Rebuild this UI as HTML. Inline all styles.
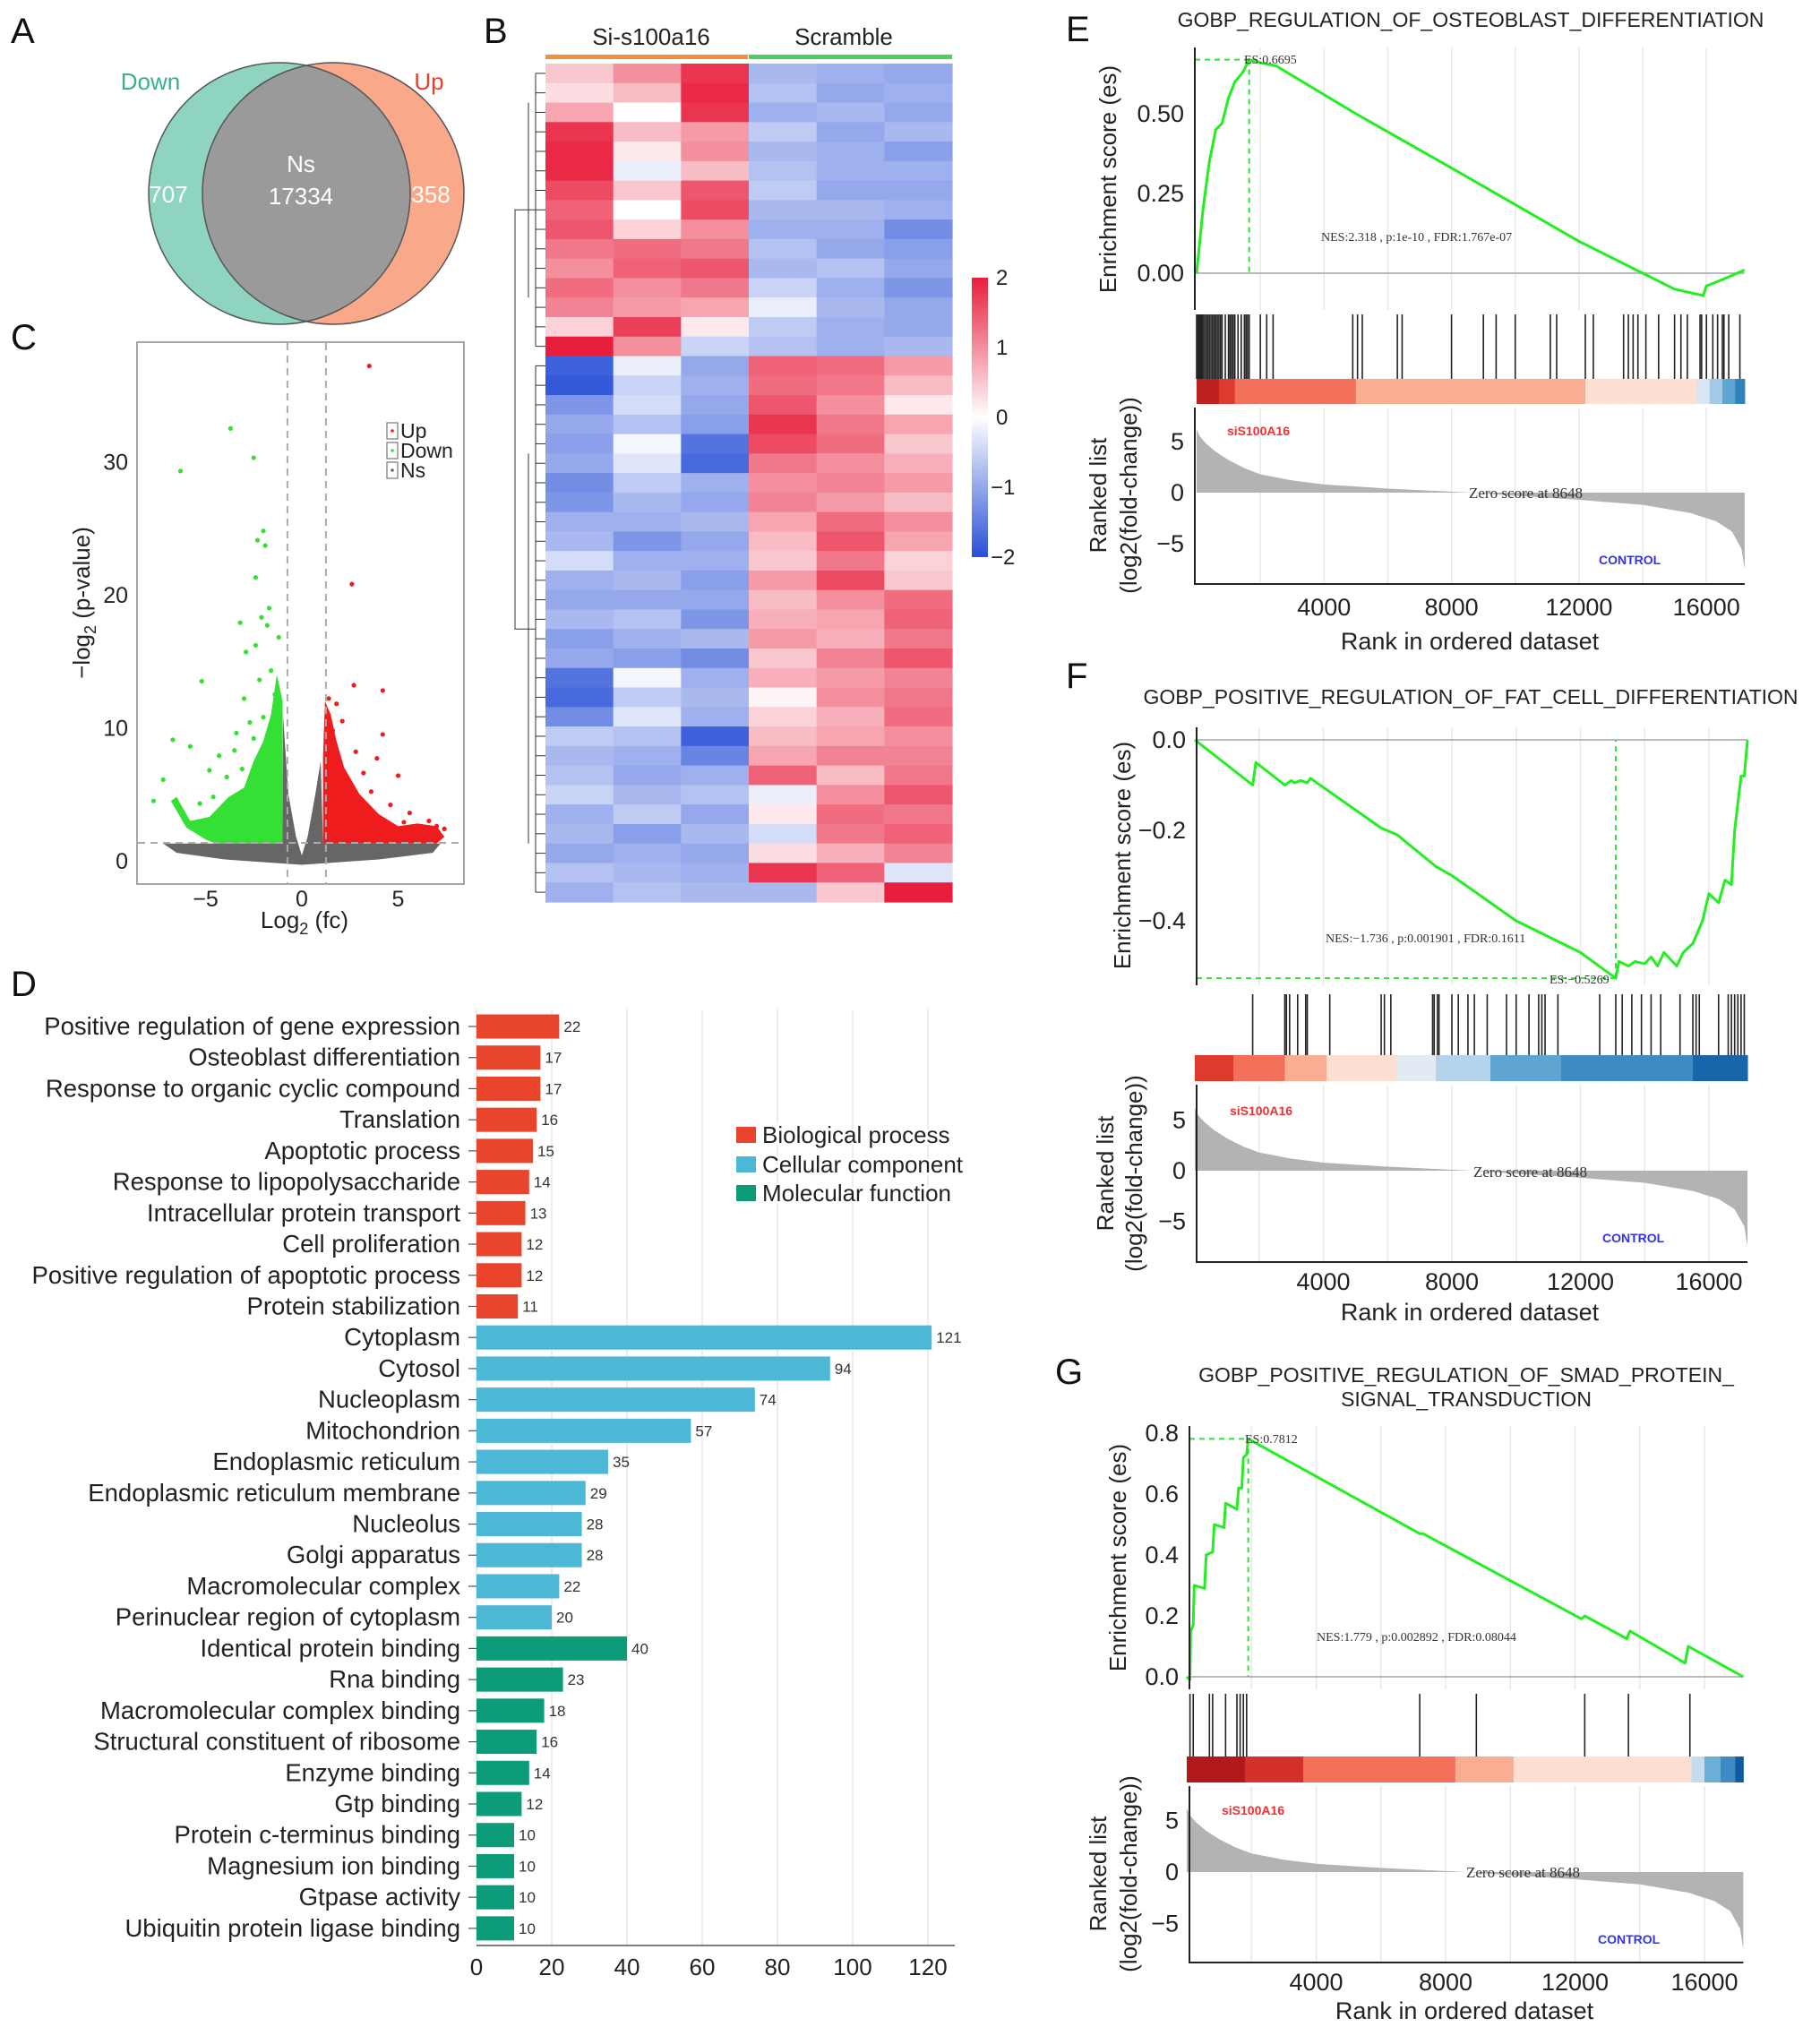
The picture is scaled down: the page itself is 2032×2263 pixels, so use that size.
<!DOCTYPE html>
<html><head><meta charset="utf-8"><style>
html,body{margin:0;padding:0;background:#fff}
svg{display:block;font-family:"Liberation Sans",Arial,sans-serif}
.lt{font-size:40px;fill:#111}
.ser{font-family:"Liberation Serif",serif}
</style></head><body>
<svg id="fig" xmlns="http://www.w3.org/2000/svg" width="2032" height="2263" viewBox="0 0 2032 2263">
<rect x="0" y="0" width="2032" height="2263" fill="#fff"/>
<text class="lt" x="12" y="48">A</text>
<text class="lt" x="540" y="48">B</text>
<text class="lt" x="12" y="390">C</text>
<text class="lt" x="12" y="1112">D</text>
<text class="lt" x="1190" y="46">E</text>
<text class="lt" x="1190" y="768">F</text>
<text class="lt" x="1178" y="1545">G</text>

<g>
<defs><clipPath id="cl"><circle cx="312" cy="216" r="146"/></clipPath></defs>
<circle cx="312" cy="216" r="146" fill="#8fd3c1"/>
<circle cx="372" cy="216" r="146" fill="#f9a98a"/>
<circle cx="372" cy="216" r="146" fill="#9a9a9a" clip-path="url(#cl)"/>
<circle cx="312" cy="216" r="146" fill="none" stroke="#555" stroke-width="1.5"/>
<circle cx="372" cy="216" r="146" fill="none" stroke="#555" stroke-width="1.5"/>
<text x="168" y="100" font-size="26" fill="#3aae8f" text-anchor="middle">Down</text>
<text x="479" y="100" font-size="26" fill="#e8402a" text-anchor="middle">Up</text>
<text x="188" y="226" font-size="26" fill="#fff" text-anchor="middle">707</text>
<text x="336" y="192" font-size="26" fill="#fff" text-anchor="middle">Ns</text>
<text x="336" y="228" font-size="26" fill="#fff" text-anchor="middle">17334</text>
<text x="481" y="226" font-size="26" fill="#fff" text-anchor="middle">358</text>
</g>

<g id="heat">
<rect x="609" y="61" width="226" height="5" fill="#f0913a"/>
<rect x="836" y="61" width="227" height="5" fill="#4fcf5f"/>
<text x="727" y="50" font-size="26" text-anchor="middle" fill="#222">Si-s100a16</text>
<text x="942" y="50" font-size="26" text-anchor="middle" fill="#222">Scramble</text>
</g>
<g>
<defs><linearGradient id="hg" x1="0" y1="0" x2="0" y2="1">
<stop offset="0" stop-color="#e81e3c"/><stop offset="0.5" stop-color="#ffffff"/><stop offset="1" stop-color="#2850d7"/></linearGradient></defs>
<rect x="1085" y="310" width="18" height="312" fill="url(#hg)"/>
<text x="1112" y="318" font-size="24" fill="#222">2</text>
<text x="1112" y="396" font-size="24" fill="#222">1</text>
<text x="1112" y="474" font-size="24" fill="#222">0</text>
<text x="1106" y="552" font-size="24" fill="#222">−1</text>
<text x="1106" y="630" font-size="24" fill="#222">−2</text>
</g>

<g id="volc">
<rect x="153" y="382" width="365" height="605" fill="#fff" stroke="#888" stroke-width="1.5"/>
<text transform="translate(100,673) rotate(-90)" font-size="26" text-anchor="middle" fill="#222">−log<tspan font-size="18" dy="7">2</tspan><tspan dy="-7"> (p-value)</tspan></text>
<text x="340" y="1036" font-size="26" text-anchor="middle" fill="#222">Log<tspan font-size="18" dy="7">2</tspan><tspan dy="-7"> (fc)</tspan></text>
</g>

<g id="bars"></g>
<g id="barLegend">
<rect x="822" y="1258" width="22" height="18" fill="#e8452c"/>
<rect x="822" y="1291" width="22" height="18" fill="#4cb8d6"/>
<rect x="822" y="1323" width="22" height="18" fill="#0c9c7a"/>
<text x="851" y="1276" font-size="26" fill="#222" stroke="#fff" stroke-width="5" paint-order="stroke">Biological process</text>
<text x="851" y="1309" font-size="26" fill="#222" stroke="#fff" stroke-width="5" paint-order="stroke">Cellular component</text>
<text x="851" y="1341" font-size="26" fill="#222" stroke="#fff" stroke-width="5" paint-order="stroke">Molecular function</text>
</g>

<g id="gE">
<text x="1642" y="30" font-size="23" text-anchor="middle" fill="#222">GOBP_REGULATION_OF_OSTEOBLAST_DIFFERENTIATION</text>
<text transform="translate(1246,200) rotate(-90)" font-size="26" text-anchor="middle" fill="#222">Enrichment score (es)</text>
<text transform="translate(1235,553) rotate(-90)" font-size="26" text-anchor="middle" fill="#222">Ranked list</text>
<text transform="translate(1269,553) rotate(-90)" font-size="26" text-anchor="middle" fill="#222">(log2(fold-change))</text>
<text x="1641" y="725" font-size="27" text-anchor="middle" fill="#222">Rank in ordered dataset</text>
<text class="ser" x="1389" y="71" font-size="14" fill="#333">ES:0.6695</text>
<text class="ser" x="1475" y="269" font-size="14" fill="#333">NES:2.318 , p:1e-10 , FDR:1.767e-07</text>
<text x="1370" y="486" font-size="14" font-weight="bold" fill="#f03030">siS100A16</text>
<text x="1785" y="630" font-size="14" font-weight="bold" fill="#3333ee">CONTROL</text>
<text class="ser" x="1640" y="556" font-size="17" fill="#333">Zero score at 8648</text>
</g>
<g id="gF">
<text x="1642" y="786" font-size="23" text-anchor="middle" fill="#222">GOBP_POSITIVE_REGULATION_OF_FAT_CELL_DIFFERENTIATION</text>
<text transform="translate(1262,955) rotate(-90)" font-size="26" text-anchor="middle" fill="#222">Enrichment score (es)</text>
<text transform="translate(1243,1310) rotate(-90)" font-size="26" text-anchor="middle" fill="#222">Ranked list</text>
<text transform="translate(1275,1310) rotate(-90)" font-size="26" text-anchor="middle" fill="#222">(log2(fold-change))</text>
<text x="1641" y="1474" font-size="27" text-anchor="middle" fill="#222">Rank in ordered dataset</text>
<text class="ser" x="1480" y="1052" font-size="14" fill="#333">NES:−1.736 , p:0.001901 , FDR:0.1611</text>
<text class="ser" x="1730" y="1098" font-size="14" fill="#333">ES:−0.5269</text>
<text x="1373" y="1245" font-size="14" font-weight="bold" fill="#f03030">siS100A16</text>
<text x="1789" y="1387" font-size="14" font-weight="bold" fill="#3333ee">CONTROL</text>
<text class="ser" x="1645" y="1314" font-size="17" fill="#333">Zero score at 8648</text>
</g>
<g id="gG">
<text x="1637" y="1543" font-size="23" text-anchor="middle" fill="#222">GOBP_POSITIVE_REGULATION_OF_SMAD_PROTEIN_</text>
<text x="1637" y="1570" font-size="23" text-anchor="middle" fill="#222">SIGNAL_TRANSDUCTION</text>
<text transform="translate(1257,1739) rotate(-90)" font-size="26" text-anchor="middle" fill="#222">Enrichment score (es)</text>
<text transform="translate(1235,2092) rotate(-90)" font-size="26" text-anchor="middle" fill="#222">Ranked list</text>
<text transform="translate(1269,2092) rotate(-90)" font-size="26" text-anchor="middle" fill="#222">(log2(fold-change))</text>
<text x="1635" y="2254" font-size="27" text-anchor="middle" fill="#222">Rank in ordered dataset</text>
<text class="ser" x="1390" y="1611" font-size="14" fill="#333">ES:0.7812</text>
<text class="ser" x="1470" y="1832" font-size="14" fill="#333">NES:1.779 , p:0.002892 , FDR:0.08044</text>
<text x="1364" y="2026" font-size="14" font-weight="bold" fill="#f03030">siS100A16</text>
<text x="1784" y="2170" font-size="14" font-weight="bold" fill="#3333ee">CONTROL</text>
<text class="ser" x="1637" y="2096" font-size="17" fill="#333">Zero score at 8648</text>
</g>
</svg>
<script>
// ---------- DATA ----------
const heatRows = [
[0.5,1.0,1.8,-0.8,-0.9,-1.0],[0.3,0.6,1.9,-0.7,-1.0,-0.9],[0.8,0.0,1.8,-0.9,-0.8,-1.0],[1.8,0.6,0.9,-0.6,-1.0,-0.8],
[1.9,0.2,1.0,-0.8,-0.9,-1.1],[1.9,-0.2,0.6,-0.7,-0.9,-0.9],[1.6,0.5,1.5,-0.6,-1.0,-1.0],[1.4,0.0,1.6,-0.8,-0.8,-0.9],
[1.5,0.4,1.0,-0.9,-0.9,-1.3],[1.2,1.3,1.2,-0.7,-1.0,-1.1],[1.0,1.4,1.5,-0.8,-0.7,-1.0],[1.3,1.0,1.2,-0.5,-0.9,-1.2],
[1.1,0.9,0.8,-0.2,-0.8,-1.0],[0.4,1.7,0.2,-0.6,-0.9,-1.0],[2.0,1.0,-0.5,-0.7,-0.9,-0.8],
[-1.8,-0.2,-1.0,1.4,1.3,0.9],[-1.9,-0.5,-0.9,1.3,1.2,0.6],[-1.2,-0.4,-1.0,1.5,1.0,0.2],[-1.0,-0.7,-1.1,1.8,1.2,0.8],
[-1.1,-0.1,-1.6,1.6,1.3,0.5],[-1.0,-0.3,-1.7,1.2,1.0,0.7],[-1.3,-0.6,-0.9,1.0,1.1,0.9],[-1.2,-0.8,-1.0,1.1,0.9,0.6],
[-0.9,-0.9,-0.8,0.8,1.3,1.0],[-0.8,-1.2,-1.0,0.6,1.5,0.8],[-0.4,-0.9,-0.9,0.5,1.2,0.4],[-0.9,-0.8,-1.1,0.9,1.6,0.5],
[-1.0,-1.0,-1.0,0.6,1.0,1.3],[-0.8,-0.7,-1.2,0.7,0.8,1.4],[-1.1,-0.9,-0.8,0.9,0.7,1.2],[-1.0,-1.1,-1.3,0.5,1.1,1.5],
[-1.6,-0.1,-0.9,0.7,0.9,1.1],[-1.7,-0.6,-0.8,0.1,1.0,1.2],[-1.3,-0.3,-0.9,0.4,0.7,1.3],[-0.6,-0.7,-1.8,0.6,0.8,1.0],
[-0.8,-0.9,-1.4,0.8,1.1,1.1],[-0.7,-1.0,-0.9,1.4,0.6,1.2],[-0.5,-0.8,-0.7,-0.2,1.0,1.5],[-0.9,-0.6,-1.0,0.2,1.3,1.2],
[-0.8,-1.1,-0.8,-0.4,1.2,1.4],[-1.0,-0.9,-1.0,0.3,0.7,1.1],[-0.7,-0.8,-0.9,1.8,1.4,-0.3],[-0.9,-0.7,-0.8,-0.8,0.5,2.0]];
const heatTopCluster = 15;

const volcXTicks = [-5,0,5];
const volcXTickLabels = ['−5','0','5'];
const volcYTicks = [0,10,20,30];
const fcThresholds = [-0.75,1.25];
const pThreshold = 1.35;
const nsOutline = [[-7.2,1.3],[-1,1.3],[-0.98,11],[-0.7,5],[-0.3,1.8],[0,0.4],[0.3,1.8],[0.7,5],[0.98,7.5],[1.1,1.3],[7.2,1.3],[6.8,0.6],[4,0.1],[0,-0.3],[-4,0.1],[-6.5,0.6]];
const downOutline = [[-1,1.3],[-1,12],[-1.3,14],[-1.6,11],[-2,9],[-2.5,7.5],[-3,5.5],[-3.8,4.8],[-4.8,3.3],[-5.8,3.0],[-6.5,4.8],[-6.8,4.5],[-6.0,2.5],[-5,1.6],[-4.5,1.3]];
const upOutline = [[1.1,1.3],[1.1,7.8],[1.2,12],[1.5,11],[1.8,9],[2.2,7],[3,5],[4,3.5],[5,2.6],[6,2.8],[7,2.6],[7.4,1.8],[7,1.3]];
const downX = [-6.3,-3.7,-2.5,-2.0,-2.3,-1.9,-2.4,-1.7,-3.2,-2.1,-1.8,-1.2,-2.9,-2.4,-5.2,-1.6,-2.2,-3.0,-6.7,-5.8,-4.3,-3.5,-7.2,-7.7,-4.8,-3.9,-2.7,-1.4,-2.0,-3.4,-4.6,-5.3,-3.1,-2.5];
const downY = [29.3,32.5,30.3,24.8,24.1,23.7,21.3,19,17.9,18.3,17.7,16.8,15.7,16.2,13.5,14.3,13.6,12.2,9.1,8.6,7.9,8.3,6.1,4.5,6.8,6.3,10.4,12.5,10.8,9.6,4.8,4.3,6.9,9.2];
const upX = [3.5,2.6,4.2,2.7,1.4,1.8,4.2,3.9,5.0,3.2,2.1,1.6,3.6,4.6,5.6,6.6,7.0,7.4,6.0,2.8,2.4,5.3,3.0,1.3];
const upY = [37.2,20.8,12.8,13.2,12.2,11.8,9.5,7.7,6.4,6.6,10.5,9.8,5.2,4.2,3.6,3.0,2.6,2.4,2.6,8.2,6.0,2.9,4.7,8.8];

const goTerms = ['Positive regulation of gene expression','Osteoblast differentiation','Response to organic cyclic compound','Translation','Apoptotic process','Response to lipopolysaccharide','Intracellular protein transport','Cell proliferation','Positive regulation of apoptotic process','Protein stabilization','Cytoplasm','Cytosol','Nucleoplasm','Mitochondrion','Endoplasmic reticulum','Endoplasmic reticulum membrane','Nucleolus','Golgi apparatus','Macromolecular complex','Perinuclear region of cytoplasm','Identical protein binding','Rna binding','Macromolecular complex binding','Structural constituent of ribosome','Enzyme binding','Gtp binding','Protein c-terminus binding','Magnesium ion binding','Gtpase activity','Ubiquitin protein ligase binding'];
const goCounts = [22,17,17,16,15,14,13,12,12,11,121,94,74,57,35,29,28,28,22,20,40,23,18,16,14,12,10,10,10,10];
const goGroups = ['BP','BP','BP','BP','BP','BP','BP','BP','BP','BP','CC','CC','CC','CC','CC','CC','CC','CC','CC','CC','MF','MF','MF','MF','MF','MF','MF','MF','MF','MF'];
const goXTicks = [0,20,40,60,80,100,120];

const rankX = [0,100,300,600,1000,1500,2000,3000,4000,6000,8648,10000,12000,14000,15500,16300,16800,17100,17200];
const rankVal = [6.2,5.5,4.8,4.0,3.2,2.4,1.8,1.2,0.8,0.4,0,-0.3,-0.7,-1.2,-2,-2.8,-3.8,-5.5,-7.5];
const rankXTicks = [4000,8000,12000,16000];

const esE_rank = [0,200,400,600,800,1000,1200,1450,1650,2000,2500,3000,5000,8000,12000,14000,15000,15900,16000,16500,17200];
const esE_val = [0,0.2,0.35,0.45,0.47,0.55,0.6,0.63,0.6695,0.66,0.65,0.62,0.5,0.33,0.1,0.0,-0.05,-0.07,-0.04,-0.02,0.01];
const rugE = [0,40,80,120,160,200,250,300,350,400,450,500,550,600,650,700,750,800,900,1000,1050,1100,1150,1200,1300,1400,1500,1550,1600,1650,2000,2200,2400,4900,5050,5200,6300,6450,8000,9000,9400,10000,11100,11300,12200,12450,13400,13550,13700,13850,14100,14500,15000,15200,15400,15800,15850,16000,16200,16350,16500,16550,16700,17050];
const cbE_bounds = [0,700,1200,5000,12200,15700,16100,16500,16900,17200];
const cbE_levels = [2.6,2,1.5,1,0.3,-0.3,-0.7,-1.2,-2];

const esF_rank = [0,1800,1900,2800,3000,3100,3300,3500,3600,4200,5800,6300,7500,8000,10000,12000,13100,13200,13500,13700,14000,14200,14400,14600,15000,15200,15500,15800,16000,16300,16500,16700,16800,16900,17000,17100,17200];
const esF_val = [0,-0.1,-0.05,-0.1,-0.09,-0.095,-0.09,-0.095,-0.085,-0.115,-0.195,-0.21,-0.28,-0.3,-0.4,-0.47,-0.5269,-0.49,-0.5,-0.49,-0.495,-0.48,-0.5,-0.47,-0.5,-0.47,-0.45,-0.4,-0.34,-0.36,-0.31,-0.32,-0.2,-0.14,-0.08,-0.08,0];
const rugF = [1800,2800,2850,2950,3200,3450,3500,4200,5800,5900,6100,7400,7450,7550,7600,8000,8200,8500,8700,9100,9700,10000,10400,10700,10800,10900,11300,12600,13100,13300,13600,13900,14200,14500,15100,15500,15600,15700,16300,16600,16700,16800,16900,17000,17100];
const cbF_bounds = [0,1200,2800,4100,6300,7500,9200,11400,15500,17200];
const cbF_levels = [2,1.5,1.0,0.3,-0.2,-0.6,-1.2,-1.8,-2.6];

const esG_rank = [0,100,120,200,230,550,600,800,850,1150,1200,1550,1600,1700,1750,1850,1900,7200,7300,12200,12300,13600,13700,15400,15500,17200];
const esG_val = [0,-0.01,0.15,0.17,0.3,0.29,0.4,0.41,0.5,0.49,0.57,0.55,0.62,0.62,0.72,0.73,0.7812,0.47,0.47,0.19,0.2,0.125,0.15,0.045,0.1,0];
const rugG = [100,200,700,800,1200,1550,1650,1750,1850,7200,8950,12300,13650,15550];
const cbG_bounds = [0,1800,3600,8300,10100,15600,16000,16500,16950,17200];
const cbG_levels = [2.8,2.2,1.5,1,0.3,-0.5,-1,-1.8,-2.8];

// ---------- HELPERS ----------
const NS='http://www.w3.org/2000/svg';
const svg=document.getElementById('fig');
function mk(tag,attrs,parent){const e=document.createElementNS(NS,tag);for(const k in attrs)e.setAttribute(k,attrs[k]);(parent||svg).appendChild(e);return e;}
function lerp(a,b,t){return Math.round(a+(b-a)*t);}
function hex(h){return [parseInt(h.slice(1,3),16),parseInt(h.slice(3,5),16),parseInt(h.slice(5,7),16)];}
function mixStops(stops,v){
  if(v<=stops[0][0])return stops[0][1];
  for(let i=1;i<stops.length;i++){if(v<=stops[i][0]){const t=(v-stops[i-1][0])/(stops[i][0]-stops[i-1][0]);const a=hex(stops[i-1][1]),b=hex(stops[i][1]);return 'rgb('+lerp(a[0],b[0],t)+','+lerp(a[1],b[1],t)+','+lerp(a[2],b[2],t)+')';}}
  return stops[stops.length-1][1];
}
const heatStops=[[-2,'#2850d7'],[0,'#ffffff'],[2,'#e81e3c']];
const gseaStops=[[-3,'#08519c'],[-2,'#3182bd'],[-1,'#6baed6'],[-0.5,'#c6dbef'],[0,'#f4f4f8'],[0.3,'#fde0d2'],[1,'#f9ad93'],[1.5,'#f3705a'],[2,'#de3a2e'],[3,'#a50f15']];

// ---------- HEATMAP ----------
(function(){
  const g=document.getElementById('heat');
  const x0=609,x1=1063,y0=71,y1=1007;
  const cw=(x1-x0)/6, rh=(y1-y0)/heatRows.length;
  heatRows.forEach((row,i)=>{row.forEach((v,j)=>{
    const r=mk('rect',{x:x0+j*cw,y:y0+i*rh,width:cw+0.6,height:rh+0.6,fill:mixStops(heatStops,v)},g);
    
    
  });});
  const dg=mk('g',{stroke:'#333','stroke-width':1,fill:'none'},g);
  
  
  const yTop=y0+heatTopCluster*rh/2, yBot=y0+heatTopCluster*rh+(heatRows.length-heatTopCluster)*rh/2;
  heatRows.forEach((row,i)=>{const yy=y0+(i+0.5)*rh;mk('line',{x1:598,y1:yy,x2:609,y2:yy},dg);});
  mk('line',{x1:598,y1:y0+rh/2,x2:598,y2:y0+(heatTopCluster-0.5)*rh},dg);
  mk('line',{x1:598,y1:y0+(heatTopCluster+0.5)*rh,x2:598,y2:y1-rh/2},dg);
  mk('line',{x1:590,y1:y0+rh*2,x2:590,y2:y0+rh*12},dg);
  mk('line',{x1:590,y1:y0+rh*20,x2:590,y2:y0+rh*40},dg);
  mk('path',{d:`M598 ${yTop}H575V${yBot}H598`},dg);
})();

// ---------- VOLCANO ----------
(function(){
  const g=document.getElementById('volc');
  const X=v=>337+v*21.5, Y=v=>961-v*14.85;
  volcYTicks.forEach(t=>{const tx=mk('text',{x:143,y:Y(t)+9,'font-size':25,'text-anchor':'end',fill:'#222'},g);tx.textContent=t;
    
    });
  volcXTicks.forEach((t,i)=>{const tx=mk('text',{x:X(t),y:1012,'font-size':25,'text-anchor':'middle',fill:'#222'},g);tx.textContent=volcXTickLabels[i];
    
    });
  const poly=(pts,fill,name)=>{const p=mk('polygon',{points:pts.map(q=>X(q[0])+','+Y(q[1])).join(' '),fill:fill},g);
    
    };
  poly(nsOutline,'#666','ns-point-cloud');
  poly(downOutline,'#33e033','down-point-cloud');
  poly(upOutline,'#ee1c1c','up-point-cloud');
  downX.forEach((x,i)=>{const c=mk('circle',{cx:X(x),cy:Y(downY[i]),r:2.6,fill:'#33e033'},g);
    
    });
  upX.forEach((x,i)=>{const c=mk('circle',{cx:X(x),cy:Y(upY[i]),r:2.6,fill:'#ee1c1c'},g);
    
    });
  fcThresholds.forEach(t=>{const l=mk('line',{x1:X(t),y1:383,x2:X(t),y2:986,stroke:'#aaa','stroke-width':2,'stroke-dasharray':'8,6'},g);
    
    });
  const h=mk('line',{x1:154,y1:Y(pThreshold),x2:517,y2:Y(pThreshold),stroke:'#aaa','stroke-width':2,'stroke-dasharray':'8,6'},g);
  
  
  const lg=[['Up','#ee1c1c',481],['Down','#33e033',503],['Ns','#666',525]];
  lg.forEach(e=>{
    const b=mk('rect',{x:432,y:e[2]-9,width:12,height:18,fill:'#fff',stroke:'#777','stroke-width':1.2},g);
    
    
    const d=mk('circle',{cx:438,cy:e[2],r:1.8,fill:e[1]},g);
    
    
    const t=mk('text',{x:447,y:e[2]+8,'font-size':23,fill:'#222'},g);t.textContent=e[0];
    
    
  });
})();

// ---------- BAR CHART ----------
(function(){
  const g=document.getElementById('bars');
  const X=v=>532+v*4.2, row0=1146, step=34.72, bh=27;
  const col={BP:'#e8452c',CC:'#4cb8d6',MF:'#0c9c7a'};
  goXTicks.forEach(t=>{
    const l=mk('line',{x1:X(t),y1:1127,x2:X(t),y2:2172,stroke:'#e6e6e6','stroke-width':1.5},g);
    
    
    const tx=mk('text',{x:X(t),y:2205,'font-size':26,'text-anchor':'middle',fill:'#222'},g);tx.textContent=t;
    
    
  });
  const ax=mk('line',{x1:532,y1:2172,x2:1066,y2:2172,stroke:'#555','stroke-width':1.5},g);
  
  
  goTerms.forEach((name,i)=>{
    const cy=row0+i*step;
    const r=mk('rect',{x:X(0),y:cy-bh/2,width:X(goCounts[i])-X(0),height:bh,fill:col[goGroups[i]]},g);
    
    
    const v=mk('text',{x:X(goCounts[i])+5,y:cy+6,'font-size':17,fill:'#333'},g);v.textContent=goCounts[i];
    
    
    const t=mk('text',{x:514,y:cy+9,'font-size':27.5,'text-anchor':'end',fill:'#222'},g);t.textContent=name;
    
    
    const tk=mk('line',{x1:523,y1:cy,x2:532,y2:cy,stroke:'#555','stroke-width':1.2},g);
    
    
  });
})();

// ---------- GSEA ----------
function gsea(c){
  const g=mk('g',{});
  
  
  const X=r=>c.x0+r*c.xs, Y=v=>c.esY0-v*c.esS, R=v=>c.rY0-v*c.rS;
  const xEnd=X(17200);
  for(let r=2000;r<=16000;r+=2000){
    [[c.esTop,c.esBot],[c.rTop,c.rBot]].forEach(p=>{const l=mk('line',{x1:X(r),y1:p[0],x2:X(r),y2:p[1],stroke:'#e8e8e8','stroke-width':1.5},g);
      
      });
  }
  const z=mk('line',{x1:c.axX,y1:Y(0),x2:xEnd,y2:Y(0),stroke:'#b0b0b0','stroke-width':1.8},g);
  
  
  c.esTicks.forEach((t,i)=>{const tx=mk('text',{x:c.axX-12,y:Y(t)+9,'font-size':27,'text-anchor':'end',fill:'#222'},g);tx.textContent=c.esTickLabels[i];
    
    });
  const pts=[X(rankX[0])+','+R(0)].concat(rankX.map((r,i)=>X(r)+','+R(rankVal[i]))).concat([X(rankX[rankX.length-1])+','+R(0)]);
  const a=mk('polygon',{points:pts.join(' '),fill:'#b3b3b3'},g);
  
  
  [5,0,-5].forEach(t=>{const tx=mk('text',{x:c.axX-12,y:R(t)+9,'font-size':27,'text-anchor':'end',fill:'#222'},g);tx.textContent=t===-5?'−5':t;
    
    });
  rankXTicks.forEach(t=>{const tx=mk('text',{x:X(t),y:c.xTickY,'font-size':27,'text-anchor':'middle',fill:'#222'},g);tx.textContent=t;
    
    });
  c.rug.forEach(r=>{const l=mk('line',{x1:X(r),y1:c.rugTop,x2:X(r),y2:c.cbTop,stroke:'#222','stroke-width':1.6},g);
    
    });
  c.cbLevels.forEach((lv,i)=>{const r=mk('rect',{x:X(c.cbBounds[i]),y:c.cbTop,width:X(c.cbBounds[i+1])-X(c.cbBounds[i])+0.5,height:c.cbBot-c.cbTop,fill:mixStops(gseaStops,lv)},g);
    
    });
  let k=0;c.esVal.forEach((v,i)=>{if(Math.abs(v)>Math.abs(c.esVal[k]))k=i;});
  const px=X(c.esRank[k]),py=Y(c.esVal[k]);
  const d1=mk('line',{x1:c.axX,y1:py,x2:px,y2:py,stroke:'#33e033','stroke-width':2,'stroke-dasharray':'6,5'},g);
  
  
  const d2=mk('line',{x1:px,y1:py,x2:px,y2:Y(0),stroke:'#33e033','stroke-width':2,'stroke-dasharray':'6,5'},g);
  
  
  const line=mk('polyline',{points:c.esRank.map((r,i)=>X(r)+','+Y(c.esVal[i])).join(' '),fill:'none',stroke:'#22ee22','stroke-width':3,'stroke-linejoin':'round'},g);
  
  
  const a1=mk('line',{x1:c.axX,y1:c.esTop,x2:c.axX,y2:c.esBot,stroke:'#222','stroke-width':2},g);
  
  
  const a2=mk('path',{d:`M${c.axX} ${c.rTop}V${c.rBot}H${xEnd}`,fill:'none',stroke:'#222','stroke-width':2},g);
  
  
}
gsea({name:'gsea-e-plot',x0:1336,xs:142.3/4000,axX:1334,esTop:53,esBot:346,esY0:305,esS:356,esTicks:[0,0.25,0.5],esTickLabels:['0.00','0.25','0.50'],
  rTop:455,rBot:652,rY0:550,rS:11.4,xTickY:687,rugTop:351,cbTop:423,cbBot:451,rug:rugE,cbBounds:cbE_bounds,cbLevels:cbE_levels,esRank:esE_rank,esVal:esE_val});
gsea({name:'gsea-f-plot',x0:1334,xs:143.5/4000,axX:1336,esTop:812,esBot:1100,esY0:826,esS:505,esTicks:[0,-0.2,-0.4],esTickLabels:['0.0','−0.2','−0.4'],
  rTop:1211,rBot:1409,rY0:1307,rS:11.3,xTickY:1440,rugTop:1110,cbTop:1178,cbBot:1207,rug:rugF,cbBounds:cbF_bounds,cbLevels:cbF_levels,esRank:esF_rank,esVal:esF_val});
gsea({name:'gsea-g-plot',x0:1325,xs:144.5/4000,axX:1328,esTop:1592,esBot:1886,esY0:1872,esS:340,esTicks:[0,0.2,0.4,0.6,0.8],esTickLabels:['0.0','0.2','0.4','0.6','0.8'],
  rTop:1994,rBot:2191,rY0:2090,rS:11.5,xTickY:2222,rugTop:1891,cbTop:1961,cbBot:1990,rug:rugG,cbBounds:cbG_bounds,cbLevels:cbG_levels,esRank:esG_rank,esVal:esG_val});
// bring annotation text above plot marks
['barLegend','gE','gF','gG'].forEach(id=>svg.appendChild(document.getElementById(id)));
</script>
</body></html>
